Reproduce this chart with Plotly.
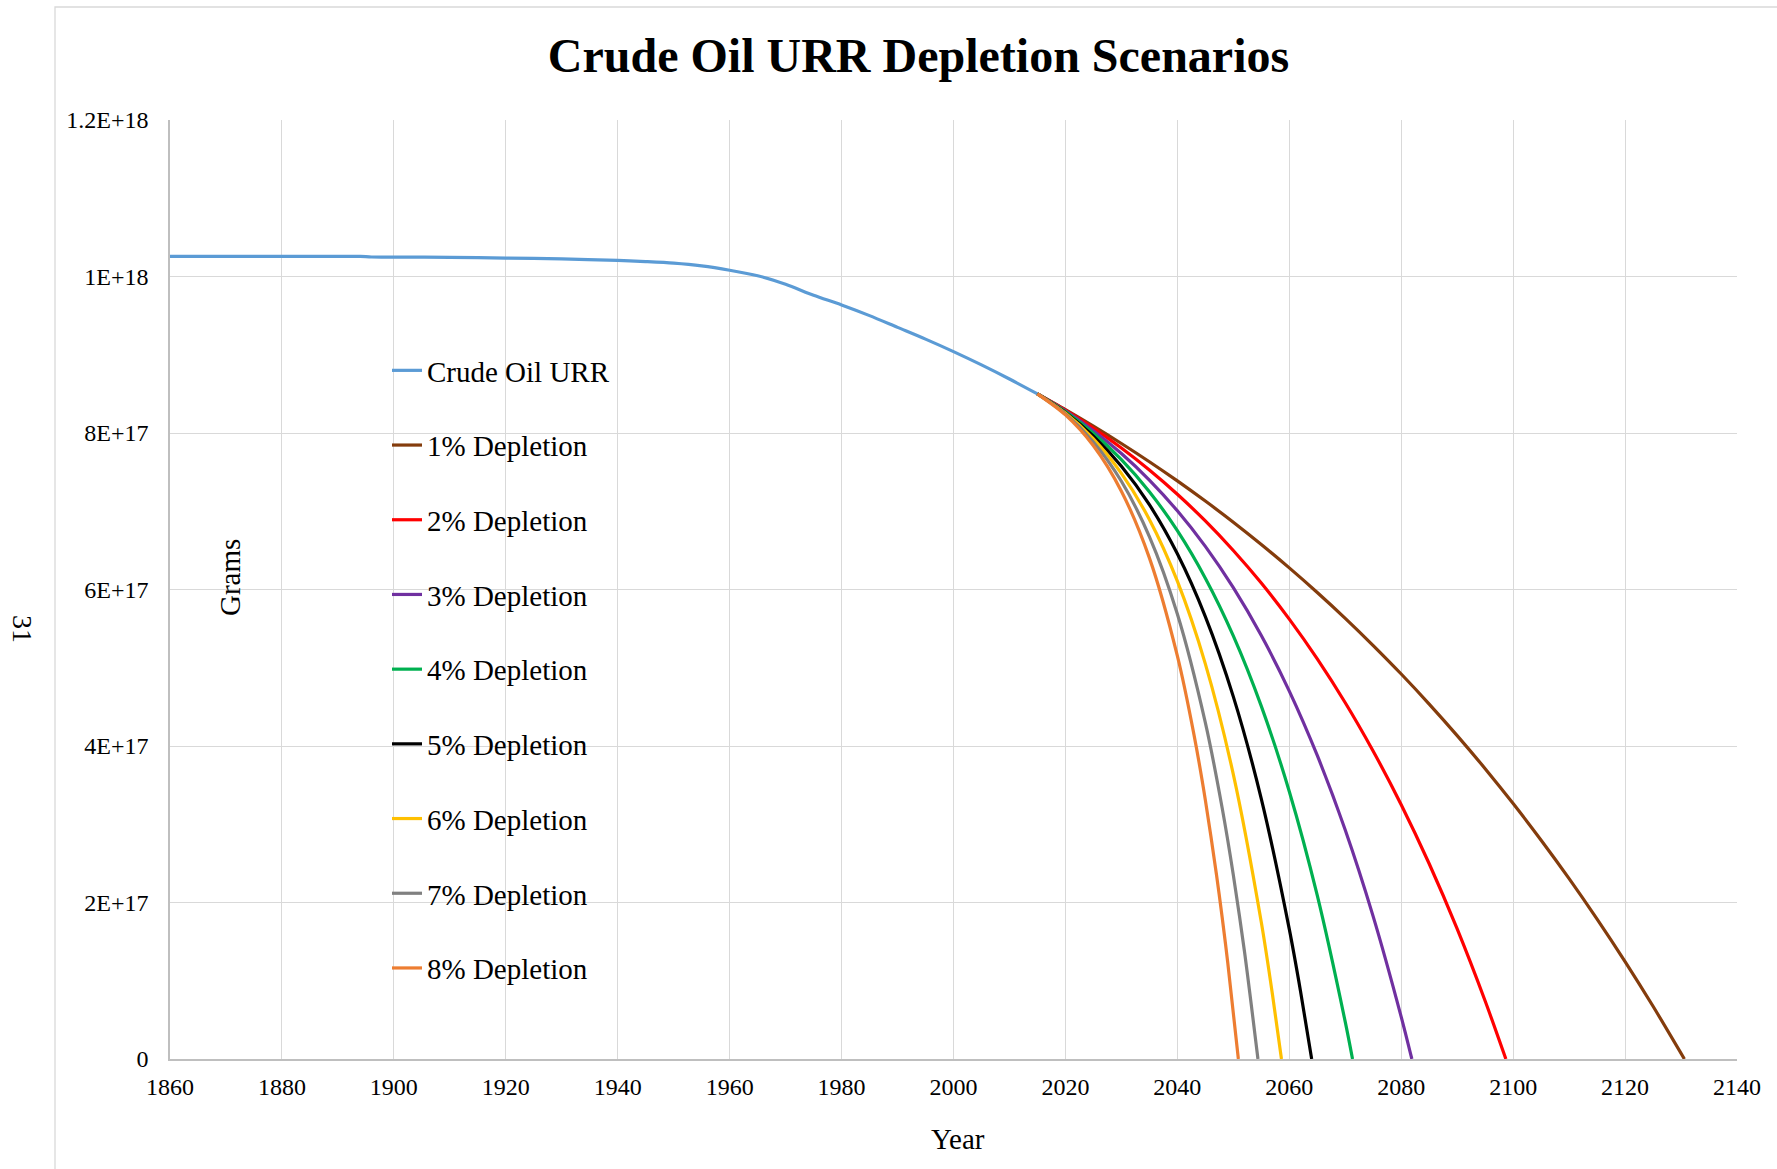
import plotly.graph_objects as go

FONT = "Liberation Serif"

# ---------------- data (grams) ----------------
hist_years = [1860, 1870, 1880, 1890, 1894, 1896, 1900, 1910, 1920, 1930, 1940, 1945, 1950,
              1955, 1960, 1965, 1970, 1975, 1980, 1985, 1990, 1995, 2000, 2005, 2010, 2015]
hist_urr = [10.257e17, 10.257e17, 10.257e17, 10.257e17, 10.257e17, 10.249e17, 10.248e17,
            10.245e17, 10.236e17, 10.225e17, 10.205e17, 10.19e17, 10.17e17, 10.135e17,
            10.08e17, 10.01e17, 9.90e17, 9.76e17, 9.636e17, 9.50e17, 9.35e17, 9.20e17,
            9.04e17, 8.87e17, 8.69e17, 8.50e17]

dep1_years = [2015, 2020, 2025, 2030, 2035, 2040, 2045, 2050, 2055, 2060, 2065, 2070, 2075,
              2080, 2085, 2090, 2095, 2100, 2105, 2110, 2115, 2120, 2125, 2130.6]
dep1_vals = [8.5e17, 8.299e17, 8.088e17, 7.866e17, 7.633e17, 7.388e17, 7.130e17, 6.860e17,
             6.575e17, 6.276e17, 5.962e17, 5.632e17, 5.284e17, 4.920e17, 4.536e17, 4.133e17,
             3.710e17, 3.264e17, 2.796e17, 2.305e17, 1.788e17, 1.245e17, 0.674e17, 0.0]

dep2_years = [2015, 2020, 2025, 2030, 2035, 2040, 2045, 2050, 2055, 2060, 2065, 2070, 2075,
              2080, 2085, 2090, 2095, 2098.7]
dep2_vals = [8.5e17, 8.292e17, 8.062e17, 7.808e17, 7.527e17, 7.217e17, 6.876e17, 6.498e17,
             6.082e17, 5.621e17, 5.113e17, 4.553e17, 3.933e17, 3.250e17, 2.495e17, 1.662e17,
             0.741e17, 0.0]

dep3_years = [2015, 2020, 2025, 2030, 2035, 2040, 2045, 2050, 2055, 2060, 2065, 2070, 2075,
              2080, 2081.9]
dep3_vals = [8.5e17, 8.283e17, 8.030e17, 7.738e17, 7.399e17, 7.006e17, 6.551e17, 6.023e17,
             5.411e17, 4.702e17, 3.879e17, 2.926e17, 1.820e17, 0.539e17, 0.0]

dep4_years = [2015, 2020, 2025, 2030, 2035, 2040, 2045, 2050, 2055, 2060, 2065, 2070, 2071.3]
dep4_vals = [8.5e17, 8.273e17, 7.996e17, 7.659e17, 7.250e17, 6.752e17, 6.145e17, 5.408e17,
             4.510e17, 3.419e17, 2.090e17, 0.474e17, 0.0]

dep5_years = [2015, 2020, 2025, 2030, 2035, 2040, 2045, 2050, 2055, 2060, 2062, 2064.0]
dep5_vals = [8.5e17, 8.263e17, 7.961e17, 7.576e17, 7.084e17, 6.456e17, 5.654e17, 4.631e17,
             3.325e17, 1.659e17, 0.870e17, 0.0]

dep6_years = [2015, 2020, 2025, 2030, 2035, 2040, 2045, 2050, 2055, 2057, 2058.6]
dep6_vals = [8.5e17, 8.254e17, 7.925e17, 7.484e17, 6.895e17, 6.106e17, 5.050e17, 3.637e17,
             1.747e17, 0.822e17, 0.0]

dep7_years = [2015, 2020, 2025, 2030, 2035, 2040, 2045, 2048, 2050, 2052, 2054.4]
dep7_vals = [8.5e17, 8.244e17, 7.886e17, 7.383e17, 6.677e17, 5.687e17, 4.299e17, 3.211e17,
             2.353e17, 1.370e17, 0.0]

dep8_years = [2015, 2020, 2025, 2030, 2035, 2040, 2043, 2045, 2047, 2048, 2049, 2050.9]
dep8_vals = [8.5e17, 8.231e17, 7.836e17, 7.256e17, 6.404e17, 5.151e17, 4.133e17, 3.311e17,
             2.352e17, 1.814e17, 1.234e17, 0.0]

series_names = ["Crude Oil URR", "1% Depletion", "2% Depletion", "3% Depletion", "4% Depletion",
                "5% Depletion", "6% Depletion", "7% Depletion", "8% Depletion"]
series_colors = ["#5B9BD5", "#843C0C", "#FF0000", "#7030A0", "#00B050",
                 "#000000", "#FFC000", "#808080", "#ED7D31"]

x_ticks = [1860, 1880, 1900, 1920, 1940, 1960, 1980, 2000, 2020, 2040, 2060, 2080, 2100, 2120, 2140]
y_ticks = [0, 2e17, 4e17, 6e17, 8e17, 1e18, 1.2e18]
y_tick_text = ["0", "2E+17", "4E+17", "6E+17", "8E+17", "1E+18", "1.2E+18"]

all_x = [hist_years, dep1_years, dep2_years, dep3_years, dep4_years,
         dep5_years, dep6_years, dep7_years, dep8_years]
all_y = [hist_urr, dep1_vals, dep2_vals, dep3_vals, dep4_vals,
         dep5_vals, dep6_vals, dep7_vals, dep8_vals]

# ---------------- figure ----------------
fig = go.Figure()
for i, (xs, ys) in enumerate(zip(all_x, all_y)):
    fig.add_trace(go.Scatter(
        x=xs, y=ys, mode="lines", name=series_names[i],
        legendgroup="g%d" % i,
        line=dict(color=series_colors[i], width=3.2, shape="spline", smoothing=0.8),
        hoverinfo="x+y+name",
    ))

W, H = 1777, 1169
L, R, T, B = 170, 40, 120, 110
pw, ph = W - L - R, H - T - B

def px_x(x):
    return (x - L) / pw

def px_y(y):
    return (H - B - y) / ph

fig.update_layout(
    width=W, height=H,
    margin=dict(l=L, r=R, t=T, b=B),
    paper_bgcolor="white", plot_bgcolor="white",
    font=dict(family=FONT, color="black"),
    title=dict(text="<b>Crude Oil URR Depletion Scenarios</b>",
               font=dict(family=FONT, size=48, color="black"),
               x=918.5 / W, xref="container", xanchor="center",
               y=1 - 55 / H, yref="container", yanchor="middle"),
    showlegend=True,
    legend=dict(x=px_x(387), y=px_y(345), xanchor="left", yanchor="top",
                bgcolor="rgba(0,0,0,0)", font=dict(family=FONT, size=29, color="black"),
                tracegroupgap=34, traceorder="grouped"),
    xaxis=dict(range=[1860, 2140], tickmode="array", tickvals=x_ticks,
               showgrid=True, gridcolor="#D9D9D9", gridwidth=1.3,
               showline=True, linecolor="#BFBFBF", linewidth=1.5,
               zeroline=False, ticks="", ticklabelstandoff=5,
               tickfont=dict(family=FONT, size=24, color="black")),
    yaxis=dict(range=[0, 1.2e18], tickmode="array", tickvals=y_ticks, ticktext=y_tick_text,
               showgrid=True, gridcolor="#D9D9D9", gridwidth=1.3,
               showline=True, linecolor="#BFBFBF", linewidth=1.5,
               zeroline=False, ticks="", ticklabelstandoff=15,
               tickfont=dict(family=FONT, size=24, color="black")),
    shapes=[dict(type="rect", xref="paper", yref="paper",
                 x0=px_x(55), x1=1.2, y0=-0.3, y1=px_y(7),
                 line=dict(color="#D9D9D9", width=1.3), fillcolor="rgba(0,0,0,0)", layer="below")],
    annotations=[
        dict(text="Grams", xref="paper", yref="paper", x=px_x(230), y=px_y(578),
             xanchor="center", yanchor="middle", textangle=-90, showarrow=False,
             font=dict(family=FONT, size=29, color="black")),
        dict(text="Year", xref="paper", yref="paper", x=px_x(957.7), y=px_y(1139),
             xanchor="center", yanchor="middle", showarrow=False,
             font=dict(family=FONT, size=29, color="black")),
        dict(text="31", xref="paper", yref="paper", x=px_x(23), y=px_y(629),
             xanchor="center", yanchor="middle", textangle=90, showarrow=False,
             font=dict(family=FONT, size=28, color="black")),
    ],
)

fig.write_html("out.html", config={"displayModeBar": False},
               post_script="document.body.style.margin='0';")
